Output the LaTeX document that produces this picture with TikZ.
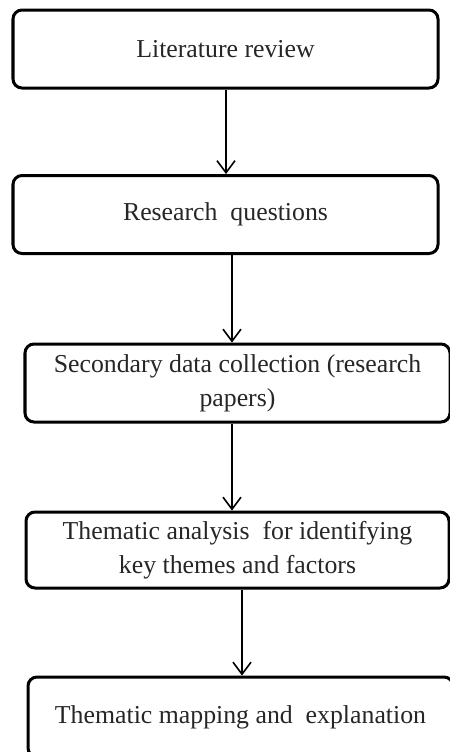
\documentclass[tikz,border=0pt]{standalone}
\usepackage{fontspec}
\setmainfont{Liberation Serif}
\usetikzlibrary{arrows.meta}

\tikzset{
  stagebox/.style={draw, line width=1.5pt, rounded corners=4.5pt, align=center,
    inner sep=0pt, minimum width=212.5pt, minimum height=39pt,
    text=black!85, font=\fontsize{12.9}{17}\selectfont},
  flowarrow/.style={line width=0.8pt, -{Straight Barb[length=6pt, width=9pt, line width=0.8pt]}}
}

\begin{document}
\begin{tikzpicture}[x=0.5pt, y=-0.5pt]
\useasboundingbox (0,0) rectangle (450,752);

\coordinate (S1) at (225.5, 49);
\coordinate (S2) at (225.5, 214.5);
\coordinate (S3) at (237.5, 383);
\coordinate (S4) at (237.5, 550);
\coordinate (S5) at (240.5, 717);

\coordinate (A1) at (226, 0);
\coordinate (A2) at (232, 0);
\coordinate (A3) at (232, 0);
\coordinate (A4) at (242, 0);

\node[stagebox] (lit) at (S1) {Literature review};
\node[stagebox] (rq) at (S2) {Research\ \ questions};
\node[stagebox] (sdc) at (S3) {Secondary data collection (research\\papers)};
\node[stagebox, minimum width=211.5pt, minimum height=38pt] (ta) at (S4) {Thematic analysis\ \ for identifying\\key themes and factors};
\node[stagebox, minimum height=40pt] (tm) at (S5) {Thematic mapping and\ \ explanation};

%\draw[dotted] (lit.south) -- (tm.north);

\path[flowarrow] (lit.south -| A1) edge (rq.north -| A1);
\path[flowarrow] (rq.south -| A2) edge (sdc.north -| A2);
\path[flowarrow] (sdc.south -| A3) edge (ta.north -| A3);
\path[flowarrow] (ta.south -| A4) edge (tm.north -| A4);

\end{tikzpicture}
\end{document}
